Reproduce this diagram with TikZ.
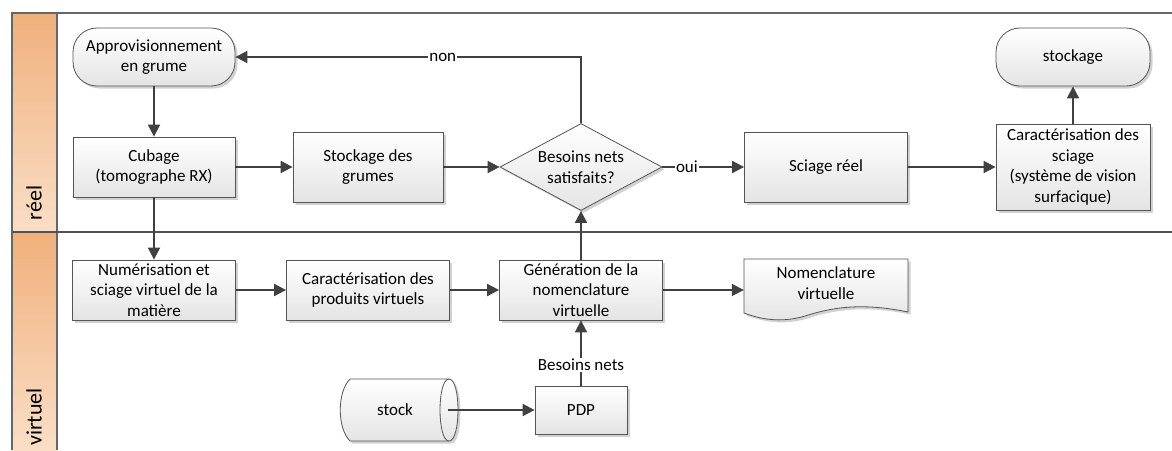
\documentclass[tikz,border=0pt]{standalone}
\usepackage{fontspec}
\setmainfont{Carlito}
\usetikzlibrary{shapes.geometric,arrows.meta,shadows}
\definecolor{lineC}{HTML}{404040}
\definecolor{frameC}{HTML}{666666}
\definecolor{hdTop}{RGB}{240,176,124}
\definecolor{hdBot}{RGB}{250,222,198}
\definecolor{boxBot}{HTML}{E4E4E4}
\definecolor{boxLine}{HTML}{555555}
\tikzset{
  shad/.style={drop shadow={shadow xshift=2.5pt,shadow yshift=-2.5pt,opacity=0.18,fill=black}},
  proc/.style={draw=boxLine, line width=0.8pt, top color=white, bottom color=boxBot,
    align=center, inner sep=2pt, shad},
  term/.style={proc, rounded corners=24pt},
  decis/.style={proc, diamond, aspect=1.86, inner sep=0pt},
  arr/.style={draw=lineC, line width=1.8pt, -{Triangle[length=12pt,width=12pt]}},
  lab/.style={fill=white, inner sep=1pt, text=black},
  txt/.style={font=\fontsize{17}{20.5}\selectfont},
  hdr/.style={font=\fontsize{22}{24}\selectfont, rotate=90},
}
\begin{document}
\begin{tikzpicture}[x=1pt,y=-1pt, txt]
\useasboundingbox (0,0) rectangle (1172,450);
% lane headers
\path[top color=hdTop, bottom color=hdBot] (12,13) rectangle (57,232);
\path[top color=hdTop, bottom color=hdBot] (12,232) rectangle (57,450);
\draw[frameC, line width=1.2pt] (12,450) -- (12,13) -- (1172,13);
\draw[frameC, line width=1.2pt] (57,13) -- (57,450);
\draw[frameC!80!black, line width=1.8pt] (12,232) -- (1172,232);
\node[hdr] (hreel) at (34,203) {réel};
\node[hdr] (hvirt) at (34,417) {virtuel};

% top lane nodes
\node[term, minimum width=162pt, minimum height=58pt] (app) at (154,57) {Approvisionnement\\en grume};
\node[proc, minimum width=162pt, minimum height=60pt] (cub) at (154,167) {Cubage\\(tomographe RX)};
\node[proc, minimum width=150pt, minimum height=70pt] (stg) at (368,167) {Stockage des\\grumes};
\node[decis, minimum width=162pt, minimum height=87pt] (dia) at (581,167) {Besoins nets\\satisfaits?};
\node[proc, minimum width=163pt, minimum height=70pt] (sci) at (826,167) {Sciage réel};
\node[proc, minimum width=154pt, minimum height=86pt] (car) at (1073,167) {Caractérisation des\\sciage\\(système de vision\\surfacique)};
\node[term, minimum width=154pt, minimum height=58pt] (sto) at (1073,57) {stockage};

% bottom lane nodes
\node[proc, minimum width=163pt, minimum height=60pt] (num) at (154,290) {Numérisation et\\sciage virtuel de la\\matière};
\node[proc, minimum width=163pt, minimum height=60pt] (cpv) at (368,290) {Caractérisation des\\produits virtuels};
\node[proc, minimum width=163pt, minimum height=60pt] (gen) at (581,290) {Génération de la\\nomenclature\\virtuelle};
\node[proc, minimum width=92pt, minimum height=48pt] (pdp) at (581,410) {PDP};

% document shape
\path[draw=boxLine, line width=0.8pt, top color=white, bottom color=boxBot, shad]
  (744,259) -- (908,259) -- (908,312)
  .. controls (860,302) and (830,308) .. (805,316)
  .. controls (785,322) and (765,321) .. (744,313) -- cycle;
\node[minimum width=164pt, minimum height=62pt, inner sep=0pt] (nom) at (826,290) {};
\node[align=center] (nomt) at (826,283) {Nomenclature\\virtuelle};

% cylinder (stock)
\path[draw=boxLine, line width=0.8pt, top color=white, bottom color=boxBot, shad]
  (350,379) -- (449,379) .. controls (461,379) and (461,441) .. (449,441)
  -- (350,441) .. controls (337,428) and (337,392) .. (350,379) -- cycle;
\draw[boxLine, line width=0.8pt] (449,379) .. controls (437,379) and (437,441) .. (449,441);
\node[minimum width=90pt, minimum height=62pt, inner sep=0pt] (stock) at (395,410) {stock};
\coordinate (stockout) at (448,410);

% connectors
\draw[arr] (app.south) -- (cub.north);
\draw[arr] (cub.east) -- (stg.west);
\draw[arr] (stg.east) -- (dia.west);
\draw[arr] (dia.east) -- node[lab, pos=0.3] {oui} (sci.west);
\draw[arr] (dia.north) -- (dia.north |- app.east) -- node[lab, pos=0.4] {non} (app.east);
\draw[arr] (sci.east) -- (car.west);
\draw[arr] (car.north) -- (sto.south);
\draw[arr] (cub.south) -- (num.north);
\draw[arr] (num.east) -- (cpv.west);
\draw[arr] (cpv.east) -- (gen.west);
\draw[arr] (gen.east) -- (nom.west);
\draw[arr] (gen.north) -- (dia.south);
\draw[arr] (pdp.north) -- node[lab, pos=0.32] {Besoins nets} (gen.south);
\draw[arr] (stockout) -- (pdp.west);
\end{tikzpicture}
\end{document}
